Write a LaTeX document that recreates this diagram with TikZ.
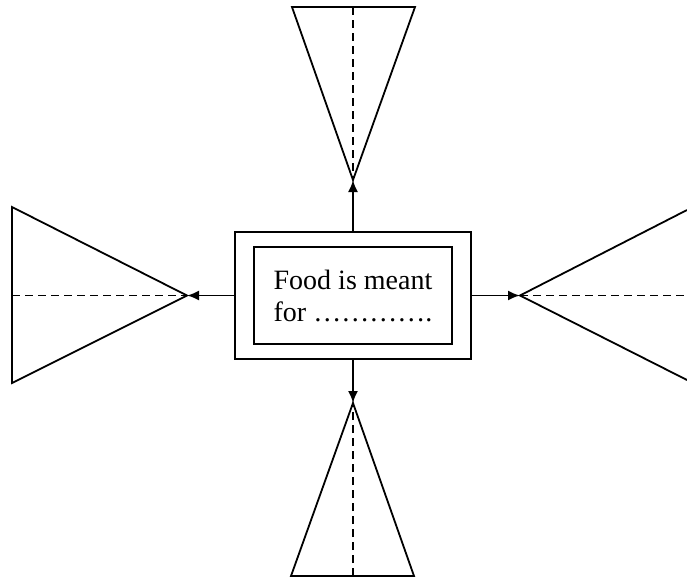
\documentclass[tikz,border=0pt]{standalone}
\usepackage{fontspec}
\setmainfont{Liberation Serif}
\usetikzlibrary{arrows.meta,positioning}

\begin{document}
\begin{tikzpicture}[x=0.5pt,y=-0.5pt,line width=0.9pt,
	axisline/.style={dash pattern=on 4pt off 2.5pt},
	link/.style={-{Latex[length=6pt,width=5pt]}}]
	\useasboundingbox (0,0) rectangle (687,580);
	% centre box
	\node[draw,minimum width=118pt,minimum height=63.5pt] (outer) at (353,295.5) {};
	\node[draw,minimum width=99pt,minimum height=48.5pt,align=left,font=\fontsize{14}{16}\selectfont] (inner) at (outer.center) {Food is meant\\for …………. };
	% apexes of the four triangles
	\coordinate (topapex) at (353,180);
	\coordinate (leftapex) at (187,295.5);
	\coordinate (rightapex) at (520,295.5);
	\coordinate (bottomapex) at (353,403);
	% triangles
	\draw (292,7) -- (415,7) -- (topapex) -- cycle;
	\draw[axisline] (353,7) -- (topapex);
	\draw (12,207) -- (12,383) -- (leftapex) -- cycle;
	\draw[axisline] (12,295.5) -- (leftapex);
	\draw (687,210) -- (rightapex) -- (687,380);
	\draw[axisline] (rightapex) -- (687,295.5);
	\draw (291,576) -- (414,576) -- (bottomapex) -- cycle;
	\draw[axisline] (353,576) -- (bottomapex);
	% arrows
	\draw[link] (outer.north) -- (topapex);
	\draw[link] (outer.west) -- (leftapex);
	\draw[link] (outer.east) -- (rightapex);
	\draw[link] (outer.south) -- (bottomapex);
\end{tikzpicture}
\end{document}
